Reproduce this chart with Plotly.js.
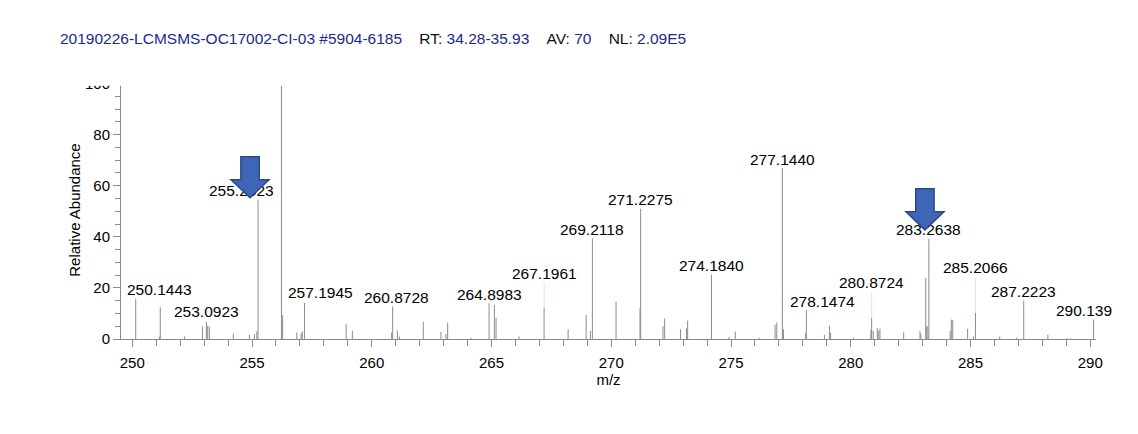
<!DOCTYPE html>
<html>
<head>
<meta charset="utf-8">
<script src="https://cdn.plot.ly/plotly-3.0.1.min.js"></script>
<style>
  html, body { margin: 0; padding: 0; background: #fff; }
  #chart { width: 1138px; height: 434px; }
</style>
</head>
<body>
<div id="chart"></div>
<script>
// ---- data ----
const peakMz = [
  250.1443, 251.13, 251.17, 252.18, 252.93, 253.0923, 253.15, 253.22, 254.22, 254.89,
  255.10, 255.20, 255.2523, 256.23, 256.28, 256.87, 257.05, 257.10, 257.1945, 258.93,
  259.19, 260.83, 260.8728, 261.07, 261.15, 262.15, 262.89, 263.10, 263.17, 264.15,
  264.8983, 265.12, 265.19, 266.15, 267.1961, 268.20, 268.95, 269.13, 269.2118, 270.20,
  271.20, 271.2275, 272.16, 272.23, 272.89, 273.14, 273.19, 274.1840, 274.92, 275.18,
  276.17, 276.84, 276.91, 277.1440, 277.19, 278.12, 278.1474, 278.90, 279.11, 279.16,
  280.11, 280.84, 280.8724, 280.94, 281.11, 281.17, 281.22, 282.21, 282.89, 282.93,
  283.13, 283.17, 283.22, 283.2638, 284.15, 284.20, 284.26, 284.88, 285.12, 285.2066,
  286.22, 286.93, 287.2223, 288.23, 289.02, 289.19, 290.1390
];
const peakIntensity = [
  15.7, 1.0, 12.4, 1.0, 4.9, 6.7, 5.2, 4.9, 2.1, 1.6,
  2.0, 3.0, 54.5, 100, 9.3, 2.6, 2.2, 3.0, 14.1, 6.0,
  3.2, 2.5, 12.8, 3.4, 1.0, 6.7, 2.8, 2.0, 6.4, 0.4,
  14.0, 13.3, 8.2, 1.0, 12.1, 3.8, 9.5, 3.2, 39.4, 14.6,
  12.0, 51.0, 5.0, 8.0, 3.8, 4.2, 7.2, 25.2, 0.8, 2.9,
  0.5, 5.6, 6.5, 66.9, 3.8, 2.3, 11.5, 1.6, 5.2, 2.5,
  0.5, 3.6, 8.2, 3.2, 4.3, 3.2, 4.0, 2.6, 3.2, 2.0,
  23.9, 5.0, 5.0, 39.2, 3.2, 7.6, 7.4, 4.0, 1.0, 10.3,
  1.0, 0.5, 15.0, 1.7, 0.3, 0.3, 7.6
];
const labelMz = [250.1443, 253.0923, 255.2523, 257.1945, 260.8728, 264.8983, 267.1961, 269.2118,
  271.2275, 274.1840, 277.1440, 278.1474, 280.8724, 283.2638, 285.2066, 287.2223, 290.1390];
const labelText = ["250.1443", "253.0923", "255.2523", "257.1945", "260.8728", "264.8983", "267.1961", "269.2118",
  "271.2275", "274.1840", "277.1440", "278.1474", "280.8724", "283.2638", "285.2066", "287.2223", "290.139"];
const arrowMz = [255.2523, 283.2638];
const titleFile = "20190226-LCMSMS-OC17002-CI-03";
const titleScan = "#5904-6185";
const titleRT = "34.28-35.93";
const titleAV = "70";
const titleNL = "2.09E5";
const xTitle = "m/z";
const yTitle = "Relative Abundance";

// ---- styling (pixel offsets of labels / arrows) ----
const labelDx = [24, 0, -17, 16, 4, 0, 0, 0, 0, 0, 0, 16, 0, 0, 0, 0, -10];
const labelDy = [9, 10, 9, 10, 9, 9, 35, 9, 9, 9, 9, 8, 36, 9, 45, 9, 9];
const labelLeader = [true, false, false, true, false, false, true, false, false, false, false, true, true, false, true, false, true];
const arrowTip = [[-8, 2], [-4, 9]];

const FONT = 'Liberation Sans, Arial, Helvetica, sans-serif';
const NAVY = '#1b2a8c';
const AXIS = '#8a8a8a';

// stick spectrum built from the arrays
const sx = [], sy = [];
peakMz.forEach((m, i) => { sx.push(m, m, null); sy.push(0, peakIntensity[i], null); });

const data = [{
  type: 'scatter', mode: 'lines', x: sx, y: sy,
  line: { color: '#8c8c8c', width: 1 },
  hoverinfo: 'skip', showlegend: false
}];

function heightAt(mz) {
  const i = peakMz.indexOf(mz);
  return i >= 0 ? peakIntensity[i] : 0;
}

const annotations = labelMz.map((m, i) => ({
  x: m, y: heightAt(m), xref: 'x', yref: 'y',
  text: labelText[i],
  showarrow: true, arrowhead: 0, arrowwidth: 0.8, standoff: 0,
  arrowcolor: labelLeader[i] ? '#c9e7c6' : 'rgba(0,0,0,0)',
  ax: labelDx[i], ay: -labelDy[i],
  font: { family: FONT, size: 15.5, color: '#000' }
}));

// geometry of the plot area
const W = 1138, H = 434;
const mL = 121, mR = 42, mT = 81.3, mB = 94.7;
const plotH = H - mT - mB;
const clipTopPaper = 1 - (86 - mT) / plotH;

const shapes = [
  // hides the part of the frame above the plotted region (the "100" label is cut in the reference)
  { type: 'rect', xref: 'paper', yref: 'paper', x0: -0.1, x1: 1.02, y0: clipTopPaper, y1: 1 + (mT - 62) / plotH,
    fillcolor: '#ffffff', line: { width: 0 }, layer: 'above' }
];
arrowMz.forEach((m, i) => {
  const tx = arrowTip[i][0], ty = arrowTip[i][1];
  const p = [
    [tx, ty], [tx - 19, ty + 18], [tx - 9.2, ty + 18], [tx - 9.2, ty + 41],
    [tx + 9.2, ty + 41], [tx + 9.2, ty + 18], [tx + 19, ty + 18]
  ];
  shapes.push({
    type: 'path', xref: 'x', yref: 'y', xsizemode: 'pixel', ysizemode: 'pixel',
    xanchor: m, yanchor: heightAt(m),
    path: 'M' + p.map(q => q[0] + ',' + q[1]).join(' L') + ' Z',
    fillcolor: '#3f66b6', line: { color: '#2c4a86', width: 1.5 }, layer: 'above'
  });
});

const sp = '\u00a0\u00a0\u00a0\u00a0';
const navy = s => '<span style="color:' + NAVY + '">' + s + '</span>';
const titleText =
  navy(titleFile) + '\u00a0' + navy(titleScan) + sp +
  'RT:\u00a0' + navy(titleRT) + sp +
  'AV:\u00a0' + navy(titleAV) + sp +
  'NL:\u00a0' + navy(titleNL);

const layout = {
  width: W, height: H,
  margin: { l: mL, r: mR, t: mT, b: mB, pad: 0 },
  paper_bgcolor: '#fff', plot_bgcolor: '#fff',
  showlegend: false,
  title: {
    text: titleText, xref: 'container', yref: 'container',
    x: 60 / W, xanchor: 'left', y: 1 - 39 / H, yanchor: 'middle',
    font: { family: FONT, size: 15.5, color: '#111' }
  },
  xaxis: {
    range: [249.53, 290.24], tick0: 250, dtick: 5,
    ticks: 'outside', ticklen: 7, tickcolor: AXIS, tickwidth: 1,
    ticklabelstandoff: 3,
    minor: { dtick: 1, ticks: 'outside', ticklen: 6, tickcolor: AXIS, tickwidth: 1, showgrid: false },
    showline: true, linecolor: AXIS, linewidth: 1, mirror: false,
    showgrid: false, zeroline: false,
    tickfont: { family: FONT, size: 15, color: '#000' },
    title: { text: xTitle, font: { family: FONT, size: 15, color: '#000' }, standoff: 4 }
  },
  yaxis: {
    range: [0, 101], tick0: 0, dtick: 20,
    ticks: 'outside', ticklen: 7, tickcolor: AXIS, tickwidth: 1,
    minor: { dtick: 5, ticks: 'outside', ticklen: 5, tickcolor: AXIS, tickwidth: 1, showgrid: false },
    showline: true, linecolor: AXIS, linewidth: 1,
    showgrid: false, zeroline: false,
    tickfont: { family: FONT, size: 15, color: '#000' },
    title: { text: yTitle, font: { family: FONT, size: 15, color: '#000' }, standoff: 0 }
  },
  annotations: annotations,
  shapes: shapes
};

Plotly.newPlot('chart', data, layout, { staticPlot: true, displayModeBar: false }).then(gd => {
  // draw the block arrows above the peak labels, as in the reference
  const upper = gd.querySelector('.layer-above');
  const svgs = gd.querySelectorAll('svg.main-svg');
  if (upper && svgs.length > 1) svgs[1].appendChild(upper);
});
</script>
</body>
</html>
